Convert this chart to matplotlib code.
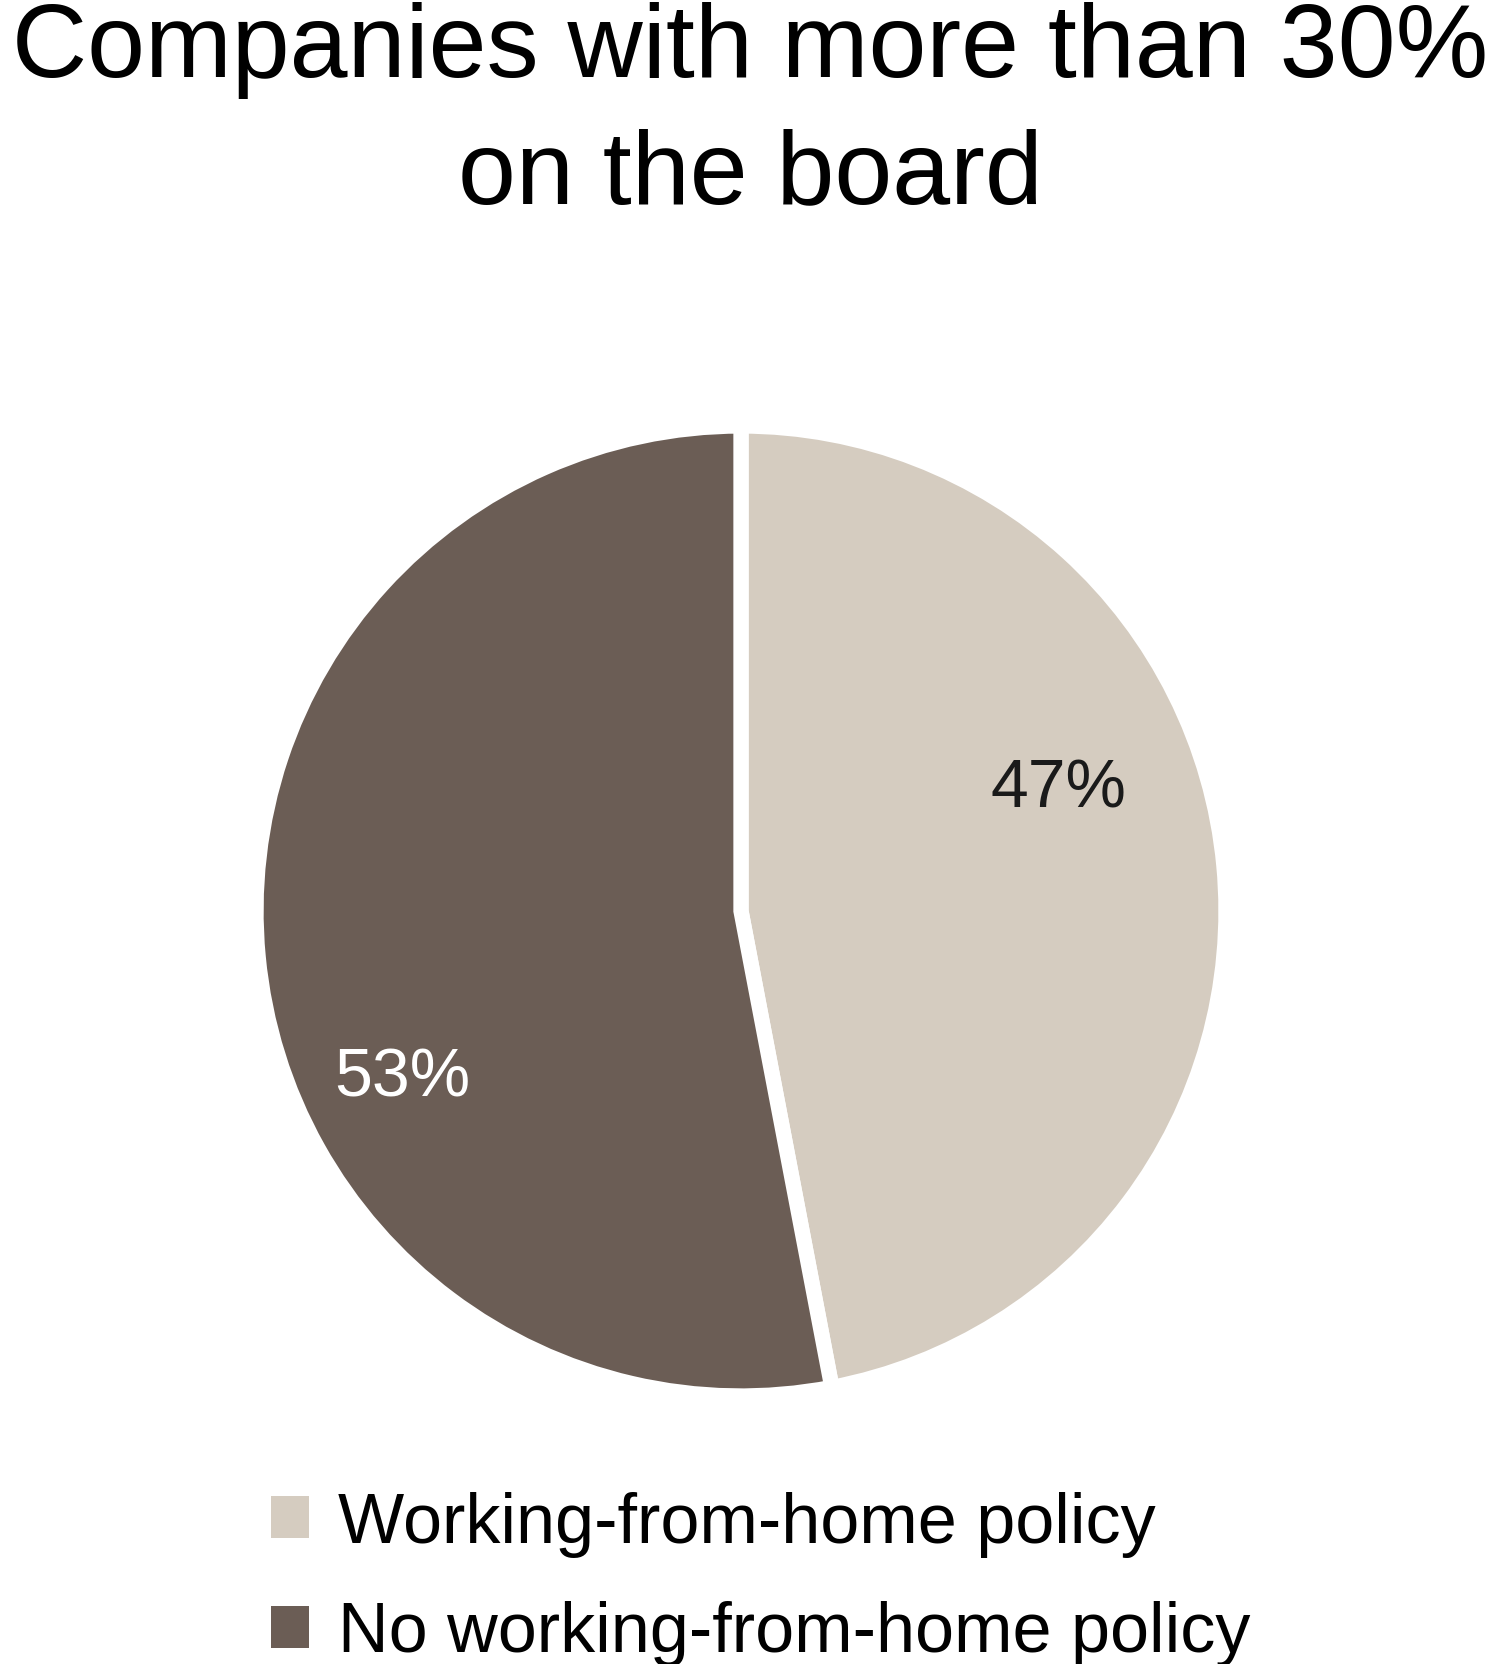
import matplotlib.pyplot as plt
from matplotlib.patches import Patch

# data
labels = ['Working-from-home policy', 'No working-from-home policy']
shares = [47, 53]
colours = ['#d5ccc0', '#6b5d55']
pct_text = ['47%', '53%']

plt.rcParams['font.family'] = ['Liberation Sans', 'DejaVu Sans']

fig = plt.figure(figsize=(15, 16.65), dpi=100)
fig.text(0.5, 1 - 77 / 1665, 'Companies with more than 30%', ha='center',
         va='baseline', fontsize=75)
fig.text(0.5, 1 - 203 / 1665, 'on the board', ha='center', va='baseline',
         fontsize=75)

ax = fig.add_axes([256 / 1500, 268 / 1665, 970 / 1500, 970 / 1665])
wedges, _ = ax.pie(shares, colors=colours, startangle=90, counterclock=False,
                   wedgeprops=dict(edgecolor='white', linewidth=11))
ax.set_xlim(-1, 1)
ax.set_ylim(-1, 1)
ax.set_aspect('equal')

# label positions placed by hand like in the source chart
ax.text(0.655, 0.253, pct_text[0], ha='center', va='center', fontsize=49,
        color='#1a1a1a')
ax.text(-0.699, -0.344, pct_text[1], ha='center', va='center', fontsize=49,
        color='white')

handles = [Patch(facecolor=c, edgecolor='none') for c in colours]
fig.legend(handles, labels, loc='upper left',
           bbox_to_anchor=(271 / 1500, 1 - 1492 / 1665), frameon=False,
           fontsize=50.5, handlelength=0.54, handleheight=0.54,
           handletextpad=0.41, labelspacing=0.62, borderpad=0,
           borderaxespad=0)

fig.savefig('out.png', dpi=100, facecolor='white')
